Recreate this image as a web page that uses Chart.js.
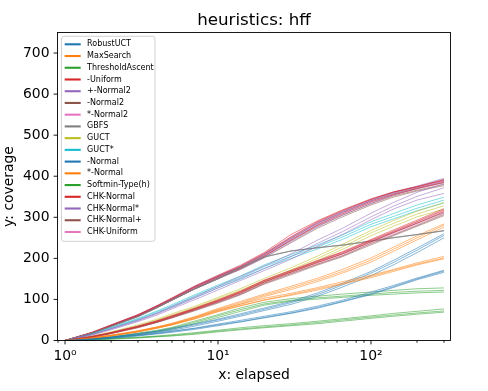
<!DOCTYPE html>
<html>
<head>
<meta charset="utf-8">
<script src="https://cdn.jsdelivr.net/npm/chart.js@4/dist/chart.umd.min.js"></script>
<style>
html,body{margin:0;padding:0;background:#ffffff;}
canvas{display:block;}
</style>
</head>
<body>
<canvas id="c" width="488" height="391"></canvas>
<script>
// ---------------- data ----------------
const chartTitle = 'heuristics: hff';
const xAxisTitle = 'x: elapsed';
const yAxisTitle = 'y: coverage';

const xValues = [1, 1.5, 2, 3, 4, 5, 7, 10, 14, 20, 30, 45, 65, 100, 140, 200, 300];

const robustUCT = [
  [0, 3, 6, 12, 17, 22, 29, 38, 46, 56, 67, 81, 95, 114, 131, 150, 169],
  [0, 2, 5, 11, 16, 20, 27, 36, 45, 55, 66, 79, 94, 112, 129, 148, 166],
  [0, 4, 7, 13, 18, 23, 30, 40, 49, 59, 70, 84, 98, 118, 134, 152, 171]
];
const maxSearch = [
  [0, 6, 12, 22, 31, 39, 53, 71, 85, 99, 112, 126, 139, 156, 171, 186, 201],
  [0, 5, 11, 21, 30, 38, 52, 70, 84, 98, 110, 123, 137, 153, 168, 184, 199],
  [0, 7, 13, 24, 33, 41, 56, 74, 88, 103, 115, 129, 143, 159, 173, 189, 205]
];
const thresholdAscent = [
  [0, 2, 4, 7, 10, 12, 17, 23, 28, 33, 38, 44, 50, 57, 62, 67, 72],
  [0, 1, 3, 6, 9, 11, 15, 21, 26, 31, 36, 41, 47, 54, 59, 64, 69],
  [0, 2, 5, 8, 11, 14, 19, 25, 31, 36, 41, 47, 53, 60, 66, 71, 77]
];
const minusUniform = [
  [0, 9, 19, 34, 47, 59, 77, 97, 118, 145, 169, 193, 214, 244, 266, 290, 318],
  [0, 10, 19, 35, 48, 60, 78, 99, 120, 147, 171, 195, 216, 246, 269, 293, 321],
  [0, 8, 17, 32, 45, 57, 75, 95, 116, 142, 166, 190, 211, 240, 263, 286, 314]
];
const plusMinusNormal2 = [
  [0, 14, 28, 48, 65, 80, 103, 128, 151, 175, 204, 237, 265, 301, 327, 351, 372],
  [0, 13, 26, 46, 62, 77, 99, 123, 146, 170, 198, 230, 258, 294, 320, 342, 358],
  [0, 15, 29, 50, 67, 83, 106, 132, 156, 181, 211, 245, 273, 310, 336, 361, 382]
];
const minusNormal2 = [
  [0, 9, 18, 33, 45, 56, 74, 93, 113, 139, 163, 186, 206, 236, 257, 280, 307],
  [0, 8, 17, 31, 44, 55, 72, 91, 111, 137, 160, 184, 204, 233, 255, 278, 304],
  [0, 9, 18, 34, 47, 58, 76, 96, 116, 143, 167, 191, 211, 241, 263, 286, 311]
];
const starNormal2 = [
  [0, 9, 18, 33, 46, 57, 75, 95, 115, 142, 166, 190, 210, 240, 262, 285, 313],
  [0, 10, 20, 35, 48, 60, 78, 98, 119, 146, 170, 194, 214, 243, 265, 289, 316],
  [0, 8, 17, 32, 44, 55, 73, 93, 112, 139, 163, 187, 207, 237, 259, 282, 309]
];
const gbfs = [
  [0, 18, 34, 58, 80, 98, 125, 150, 177, 203, 218, 226, 232, 242, 250, 258, 267],
  [0, 18, 34, 58, 80, 98, 125, 150, 177, 203, 218, 226, 232, 242, 250, 258, 267],
  [0, 18, 35, 58, 80, 99, 125, 151, 177, 204, 218, 226, 233, 242, 251, 258, 268]
];
const guct = [
  [0, 10, 20, 36, 50, 62, 80, 102, 122, 146, 172, 200, 228, 262, 285, 308, 328],
  [0, 9, 19, 34, 48, 60, 78, 99, 119, 142, 168, 195, 222, 255, 278, 301, 320],
  [0, 11, 21, 38, 52, 65, 83, 105, 126, 151, 177, 206, 234, 268, 292, 315, 336]
];
const guctStar = [
  [0, 16, 31, 52, 70, 84, 108, 132, 153, 180, 205, 228, 252, 283, 302, 322, 342],
  [0, 15, 29, 50, 67, 81, 104, 128, 149, 175, 200, 223, 246, 277, 296, 316, 335],
  [0, 17, 32, 54, 72, 87, 111, 135, 157, 184, 209, 233, 257, 289, 309, 330, 349]
];
const minusNormal = [
  [0, 4, 8, 16, 22, 28, 38, 50, 62, 76, 92, 112, 135, 164, 190, 220, 256],
  [0, 3, 7, 14, 20, 25, 35, 47, 59, 73, 88, 108, 130, 158, 184, 214, 250],
  [0, 5, 9, 17, 23, 30, 40, 52, 65, 79, 95, 116, 139, 168, 195, 225, 260]
];
const starNormal = [
  [0, 6, 12, 22, 32, 40, 56, 76, 92, 110, 128, 148, 168, 196, 222, 250, 281],
  [0, 5, 11, 21, 30, 38, 54, 73, 89, 107, 124, 144, 164, 191, 217, 245, 276],
  [0, 7, 13, 23, 33, 42, 58, 78, 95, 113, 132, 152, 173, 201, 227, 255, 284]
];
const softminTypeH = [
  [0, 4, 8, 16, 23, 30, 44, 60, 75, 89, 98, 104, 108, 113, 117, 120, 122],
  [0, 3, 7, 14, 21, 27, 41, 56, 71, 86, 96, 101, 105, 110, 113, 116, 118],
  [0, 5, 9, 18, 25, 32, 47, 63, 79, 93, 102, 108, 113, 118, 122, 126, 128]
];
const chkNormal = [
  [0, 19, 37, 62, 84, 102, 130, 156, 180, 211, 252, 289, 316, 343, 361, 374, 390],
  [0, 18, 35, 60, 81, 99, 126, 152, 175, 205, 244, 281, 308, 337, 355, 370, 385],
  [0, 20, 38, 63, 85, 104, 132, 159, 183, 214, 258, 292, 318, 345, 362, 375, 392]
];
const chkNormalStar = [
  [0, 19, 36, 61, 83, 101, 129, 155, 178, 207, 246, 283, 311, 340, 359, 374, 392],
  [0, 18, 35, 59, 81, 98, 125, 151, 173, 202, 240, 277, 305, 334, 354, 370, 388],
  [0, 19, 37, 62, 84, 102, 131, 157, 180, 210, 250, 287, 314, 343, 361, 376, 395]
];
const chkNormalPlus = [
  [0, 19, 36, 60, 82, 100, 127, 153, 176, 205, 243, 279, 305, 333, 352, 366, 380],
  [0, 18, 35, 59, 80, 98, 125, 150, 173, 201, 238, 274, 301, 330, 349, 364, 377],
  [0, 19, 37, 62, 84, 102, 130, 156, 179, 209, 249, 286, 312, 340, 357, 371, 385]
];
const chkUniform = [
  [0, 19, 36, 61, 83, 101, 129, 155, 178, 208, 248, 285, 312, 340, 358, 372, 388],
  [0, 20, 38, 63, 85, 103, 132, 158, 182, 212, 253, 290, 316, 344, 361, 374, 390],
  [0, 18, 35, 60, 81, 99, 127, 153, 176, 205, 245, 282, 309, 337, 355, 369, 384]
];

const algorithmNames = [
  'RobustUCT', 'MaxSearch', 'ThresholdAscent', '-Uniform', '+-Normal2', '-Normal2',
  '*-Normal2', 'GBFS', 'GUCT', 'GUCT*', '-Normal', '*-Normal', 'Softmin-Type(h)',
  'CHK-Normal', 'CHK-Normal*', 'CHK-Normal+', 'CHK-Uniform'
];
const algorithmRuns = [
  robustUCT, maxSearch, thresholdAscent, minusUniform, plusMinusNormal2, minusNormal2,
  starNormal2, gbfs, guct, guctStar, minusNormal, starNormal, softminTypeH,
  chkNormal, chkNormalStar, chkNormalPlus, chkUniform
];

const yTickValues = [0, 100, 200, 300, 400, 500, 600, 700];
const xMajorTickLabels = { 1: '10\u2070', 10: '10\u00b9', 100: '10\u00b2' };

// ---------------- styles ----------------
const palette = ['#1f77b4', '#ff7f0e', '#2ca02c', '#d62728', '#9467bd',
                 '#8c564b', '#e377c2', '#7f7f7f', '#bcbd22', '#17becf'];
const FONT = "'DejaVu Sans', 'Liberation Sans', sans-serif";
const TICK_SIZE = 13.9;
const TITLE_SIZE = 16.7;
const LEGEND_SIZE = 8;

function withAlpha(hex, a) {
  const n = parseInt(hex.slice(1), 16);
  return 'rgba(' + ((n >> 16) & 255) + ',' + ((n >> 8) & 255) + ',' + (n & 255) + ',' + a + ')';
}

const datasets = [];
algorithmRuns.forEach((runs, i) => {
  const col = palette[i % palette.length];
  runs.forEach((run) => {
    datasets.push({
      label: algorithmNames[i],
      data: run.map((v, k) => ({ x: xValues[k], y: v })),
      borderColor: withAlpha(col, 0.6),
      backgroundColor: withAlpha(col, 0.6),
      borderWidth: 0.9,
      pointRadius: 0,
      fill: false,
      tension: 0
    });
  });
});

// ---------------- plugins ----------------
const decorations = {
  id: 'decorations',
  afterDatasetsDraw(chart) {
    const { ctx, chartArea: a, scales } = chart;
    const xs = scales.x, ys = scales.y;
    ctx.save();
    ctx.strokeStyle = '#000';
    ctx.lineWidth = 0.9;
    ctx.strokeRect(a.left, a.top, a.right - a.left, a.bottom - a.top);
    for (let e = -1; e <= 3; e++) {
      for (let n = 1; n <= 9; n++) {
        const v = n * Math.pow(10, e);
        if (v < xs.min - 1e-9 || v > xs.max) continue;
        const px = xs.getPixelForValue(v);
        const len = n === 1 ? 3.9 : 2.2;
        ctx.beginPath();
        ctx.moveTo(px, a.bottom);
        ctx.lineTo(px, a.bottom + len);
        ctx.stroke();
      }
    }
    yTickValues.forEach((v) => {
      const py = ys.getPixelForValue(v);
      ctx.beginPath();
      ctx.moveTo(a.left - 3.9, py);
      ctx.lineTo(a.left, py);
      ctx.stroke();
    });
    ctx.restore();
  },
  afterDraw(chart) {
    const { ctx, chartArea: a } = chart;
    ctx.save();
    ctx.fillStyle = '#000';
    ctx.font = TITLE_SIZE + 'px ' + FONT;
    ctx.textAlign = 'center';
    ctx.textBaseline = 'alphabetic';
    ctx.fillText(chartTitle, (a.left + a.right) / 2, 25.4);

    const bx = a.left + 4, by = a.top + 3.8, bw = 93.5, bh = 205;
    const r = 2.5;
    ctx.beginPath();
    ctx.moveTo(bx + r, by);
    ctx.lineTo(bx + bw - r, by);
    ctx.arcTo(bx + bw, by, bx + bw, by + r, r);
    ctx.lineTo(bx + bw, by + bh - r);
    ctx.arcTo(bx + bw, by + bh, bx + bw - r, by + bh, r);
    ctx.lineTo(bx + r, by + bh);
    ctx.arcTo(bx, by + bh, bx, by + bh - r, r);
    ctx.lineTo(bx, by + r);
    ctx.arcTo(bx, by, bx + r, by, r);
    ctx.closePath();
    ctx.fillStyle = 'rgba(255,255,255,0.8)';
    ctx.fill();
    ctx.strokeStyle = '#cccccc';
    ctx.lineWidth = 0.9;
    ctx.stroke();

    ctx.font = LEGEND_SIZE + 'px ' + FONT;
    ctx.textAlign = 'left';
    ctx.textBaseline = 'middle';
    const rowH = 11.73;
    algorithmNames.forEach((name, i) => {
      const cy = by + 8 + i * rowH;
      ctx.strokeStyle = palette[i % palette.length];
      ctx.lineWidth = 2.1;
      ctx.beginPath();
      ctx.moveTo(bx + 3.2, cy);
      ctx.lineTo(bx + 3.2 + 16, cy);
      ctx.stroke();
      ctx.fillStyle = '#000';
      ctx.fillText(name, bx + 3.2 + 16 + 6.4, cy);
    });
    ctx.restore();
  }
};

Chart.defaults.font.family = FONT;
Chart.defaults.color = '#000';

new Chart(document.getElementById('c'), {
  type: 'line',
  data: { datasets },
  options: {
    responsive: false,
    animation: false,
    devicePixelRatio: 1,
    layout: { padding: { left: 0, right: 37.5, top: 32.5, bottom: 0 } },
    plugins: { legend: { display: false }, title: { display: false }, tooltip: { enabled: false } },
    scales: {
      x: {
        type: 'logarithmic',
        min: 0.893,
        max: 331,
        afterFit(scale) { scale.height = 50.5; },
        grid: { display: false, drawTicks: false },
        border: { display: false },
        ticks: {
          autoSkip: false,
          maxRotation: 0,
          minRotation: 0,
          padding: 8,
          font: { size: TICK_SIZE, family: FONT },
          color: '#000',
          callback(value) { return xMajorTickLabels[value] || ''; }
        },
        title: { display: true, text: xAxisTitle, font: { size: TICK_SIZE, family: FONT }, color: '#000', padding: { top: 0, bottom: 7 } }
      },
      y: {
        type: 'linear',
        min: 0,
        max: 750,
        afterFit(scale) { scale.width = 57.5; },
        grid: { display: false, drawTicks: false },
        border: { display: false },
        ticks: {
          stepSize: 100,
          includeBounds: false,
          padding: 8,
          font: { size: TICK_SIZE, family: FONT },
          color: '#000'
        },
        title: { display: true, text: yAxisTitle, font: { size: TICK_SIZE, family: FONT }, color: '#000', padding: { top: 1, bottom: 0 } }
      }
    }
  },
  plugins: [decorations]
});
</script>
</body>
</html>
